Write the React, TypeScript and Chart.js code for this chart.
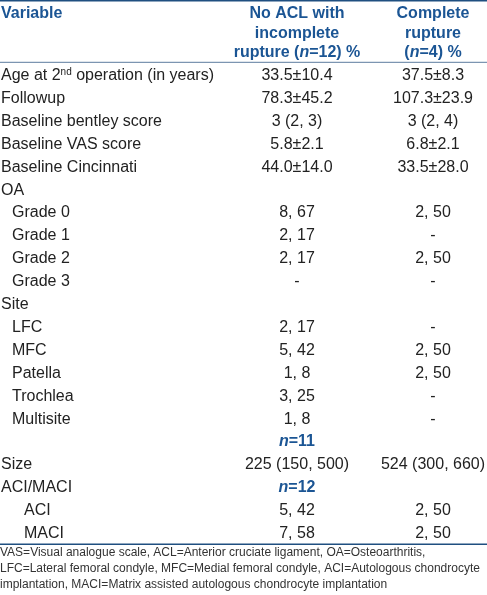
import React, { useEffect, useRef } from "react";
import { Chart, registerables } from "chart.js";

Chart.register(...registerables);

// ---------- data ----------
const headerVariable = ["Variable"];
const headerIncomplete = ["No ACL with", "incomplete", "rupture (<i>n</i>=12) %"];
const headerComplete = ["Complete", "rupture", "(<i>n</i>=4) %"];

const rowLabels = [
  "Age at 2<sup>nd</sup> operation (in years)",
  "Followup",
  "Baseline bentley score",
  "Baseline VAS score",
  "Baseline Cincinnati",
  "OA",
  "Grade 0",
  "Grade 1",
  "Grade 2",
  "Grade 3",
  "Site",
  "LFC",
  "MFC",
  "Patella",
  "Trochlea",
  "Multisite",
  "",
  "Size",
  "ACI/MACI",
  "ACI",
  "MACI",
];
const rowIndent = [0, 0, 0, 0, 0, 0, 1, 1, 1, 1, 0, 1, 1, 1, 1, 1, 0, 0, 0, 2, 2];

const incompleteValues = [
  "33.5±10.4", "78.3±45.2", "3 (2, 3)", "5.8±2.1", "44.0±14.0", "",
  "8, 67", "2, 17", "2, 17", "-", "",
  "2, 17", "5, 42", "1, 8", "3, 25", "1, 8", "",
  "225 (150, 500)", "", "5, 42", "7, 58",
];
const completeValues = [
  "37.5±8.3", "107.3±23.9", "3 (2, 4)", "6.8±2.1", "33.5±28.0", "",
  "2, 50", "-", "2, 50", "-", "",
  "-", "2, 50", "2, 50", "-", "-", "",
  "524 (300, 660)", "", "2, 50", "2, 50",
];
const subgroupN: (number | null)[] = [
  null, null, null, null, null, null, null, null, null, null, null,
  null, null, null, null, null, 11, null, 12, null, null,
];

const footnotes = [
  "VAS=Visual analogue scale, ACL=Anterior cruciate ligament, OA=Osteoarthritis,",
  "LFC=Lateral femoral condyle, MFC=Medial femoral condyle, ACI=Autologous chondrocyte",
  "implantation, MACI=Matrix assisted autologous chondrocyte implantation",
];

// ---------- layout / style ----------
const W = 487;
const H = 595;
const FONT = '"Liberation Sans", Arial, Helvetica, sans-serif';
const BLUE = "#1b5594";
const LINE = "#1f4f80";
const TEXT = "#222222";
const INDENT_PX = [1, 12, 24];
const HEADER_BASELINES = [18.3, 37.5, 56.5];

type Run = { t: string; font: string; dy: number };

function parseRuns(s: string, size: number, bold: boolean): Run[] {
  const w = bold ? "bold " : "";
  const parts = s.split(/(<sup>.*?<\/sup>|<i>.*?<\/i>)/).filter((p) => p.length);
  return parts.map((p) => {
    if (p.startsWith("<sup>")) {
      return { t: p.slice(5, -6), font: `${w}${Math.round(size * 0.62)}px ${FONT}`, dy: -5 };
    }
    if (p.startsWith("<i>")) {
      return { t: p.slice(3, -4), font: `italic ${w}${size}px ${FONT}`, dy: 0 };
    }
    return { t: p, font: `${w}${size}px ${FONT}`, dy: 0 };
  });
}

function drawRich(
  ctx: CanvasRenderingContext2D,
  s: string,
  x: number,
  y: number,
  align: "left" | "center",
  size: number,
  bold: boolean,
  color: string
) {
  const runs = parseRuns(s, size, bold);
  let total = 0;
  const widths = runs.map((r) => {
    ctx.font = r.font;
    const m = ctx.measureText(r.t).width;
    total += m;
    return m;
  });
  let cx = align === "center" ? x - total / 2 : x;
  ctx.fillStyle = color;
  ctx.textAlign = "left";
  ctx.textBaseline = "alphabetic";
  runs.forEach((r, i) => {
    ctx.font = r.font;
    ctx.fillText(r.t, cx, y + r.dy);
    cx += widths[i];
  });
}

const tablePlugin = {
  id: "tableText",
  afterDatasetsDraw(chart: any) {
    const ctx: CanvasRenderingContext2D = chart.ctx;
    const area = chart.chartArea;
    const m1 = chart.getDatasetMeta(0).data;
    const m2 = chart.getDatasetMeta(1).data;
    const yScale = chart.scales.y;
    ctx.save();

    // rules
    ctx.fillStyle = LINE;
    ctx.fillRect(0, 0, W, 1.5);
    ctx.fillStyle = "#5c7c9e";
    ctx.fillRect(0, area.top - 1, W, 1);
    ctx.fillStyle = LINE;
    ctx.fillRect(0, area.bottom - 0.3, W, 1.5);

    // header
    const x1 = m1[0].x;
    const x2 = m2[0].x;
    headerVariable.forEach((h, k) =>
      drawRich(ctx, h, INDENT_PX[0], HEADER_BASELINES[k], "left", 16, true, BLUE)
    );
    headerIncomplete.forEach((h, k) =>
      drawRich(ctx, h, x1, HEADER_BASELINES[k], "center", 16, true, BLUE)
    );
    headerComplete.forEach((h, k) =>
      drawRich(ctx, h, x2, HEADER_BASELINES[k], "center", 16, true, BLUE)
    );

    // body
    rowLabels.forEach((label, i) => {
      const base = yScale.getPixelForValue(i) + 5.75;
      if (label) drawRich(ctx, label, area.left + INDENT_PX[rowIndent[i]], base, "left", 16, false, TEXT);
      const p1 = m1[i];
      const p2 = m2[i];
      if (subgroupN[i] != null) {
        drawRich(ctx, `<i>n</i>=${subgroupN[i]}`, p1.x, p1.y + 5.75, "center", 16, true, BLUE);
      }
      if (incompleteValues[i]) drawRich(ctx, incompleteValues[i], p1.x, p1.y + 5.75, "center", 16, false, TEXT);
      if (completeValues[i]) drawRich(ctx, completeValues[i], p2.x, p2.y + 5.75, "center", 16, false, TEXT);
    });

    // footnotes
    footnotes.forEach((f, k) => {
      drawRich(ctx, f, 0, area.bottom + 12.3 + k * 16, "left", 12, false, "#333333");
    });

    ctx.restore();
  },
};

export default function App() {
  const ref = useRef<HTMLCanvasElement>(null);
  useEffect(() => {
    document.body.style.margin = "0";
    const canvas = ref.current!;
    const chart = new Chart(canvas, {
      type: "scatter",
      data: {
        datasets: [
          {
            label: headerIncomplete.join(" "),
            data: rowLabels.map((_, i) => ({ x: 1, y: i })),
            pointRadius: 0,
            pointHoverRadius: 0,
          },
          {
            label: headerComplete.join(" "),
            data: rowLabels.map((_, i) => ({ x: 2, y: i })),
            pointRadius: 0,
            pointHoverRadius: 0,
          },
        ],
      },
      options: {
        animation: false,
        responsive: false,
        devicePixelRatio: 1,
        events: [],
        layout: { padding: { top: 62.8, bottom: H - 543.8, left: 0, right: 0 } },
        plugins: {
          legend: { display: false },
          tooltip: { enabled: false },
          title: { display: false },
        },
        scales: {
          x: {
            type: "linear",
            display: false,
            min: 1 - 297 / 136,
            max: 2 + (W - 433) / 136,
          },
          y: {
            type: "linear",
            display: false,
            reverse: true,
            min: -0.5,
            max: rowLabels.length - 0.5,
          },
        },
      },
      plugins: [tablePlugin],
    });
    return () => chart.destroy();
  }, []);
  return (
    <canvas
      ref={ref}
      width={W}
      height={H}
      style={{ display: "block", width: W, height: H, background: "#ffffff" }}
    />
  );
}
